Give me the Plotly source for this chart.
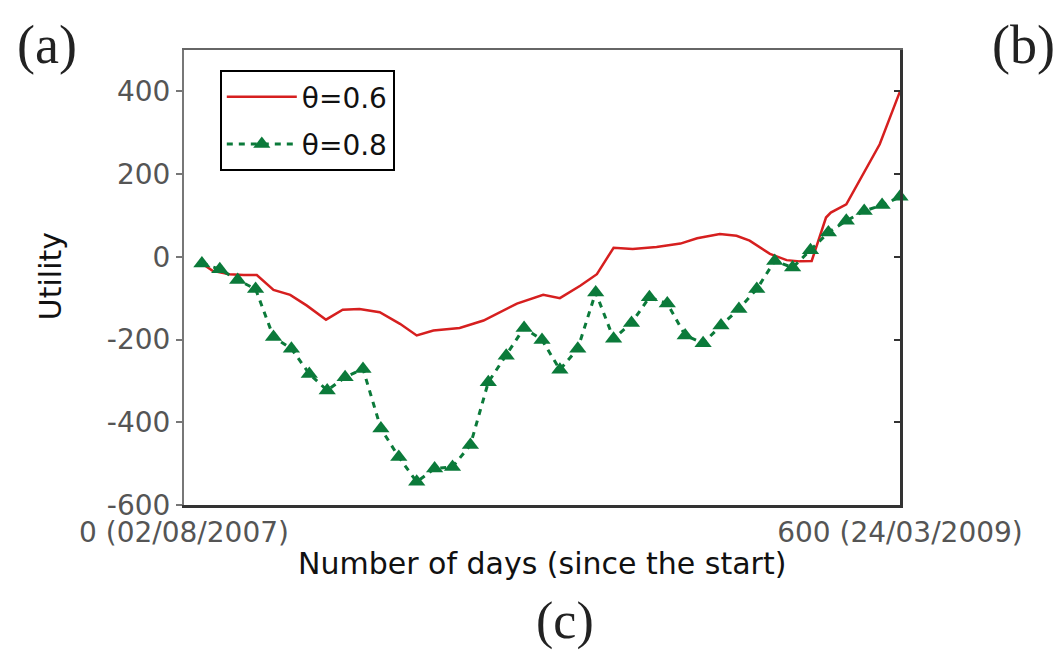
import plotly.graph_objects as go

# Utility over time for two threshold settings
days_theta06 = [15, 24, 38, 50, 61, 75, 89, 103, 119, 133, 147, 164, 181, 195,
                209, 231, 251, 265, 279, 301, 315, 332, 346, 360, 376, 396,
                416, 430, 449, 463, 474, 491, 505, 516, 526, 538, 542, 555,
                569, 583, 600]
utility_theta06 = [-16, -34, -42, -44, -44, -80, -92, -118, -152, -128, -126,
                   -134, -162, -190, -178, -172, -154, -134, -113, -92, -100,
                   -70, -42, 22, 19, 24, 32, 45, 55, 51, 39, 7, -8, -11, -10,
                   95, 107, 127, 199, 272, 400]

days_theta08 = [15, 30, 45, 60, 75, 90, 105, 120, 135, 150, 165, 180, 195,
                210, 225, 240, 255, 270, 285, 300, 315, 330, 345, 360, 375,
                390, 405, 420, 435, 450, 465, 480, 495, 510, 525, 540, 555,
                570, 585, 600]
utility_theta08 = [-16, -30, -56, -78, -194, -222, -283, -323, -291, -271,
                   -415, -484, -544, -512, -508, -455, -303, -239, -172, -201,
                   -273, -222, -86, -198, -160, -98, -113, -190, -209, -166,
                   -126, -78, -10, -26, 16, 59, 87, 111, 125, 145]

y_ticks = [-600, -400, -200, 0, 200, 400]
y_tick_text = ["-600", "-400", "-200", "0", "200", "400"]
x_ticks = [0, 600]
x_tick_text = ["0 (02/08/2007)", "600 (24/03/2009)"]

RED = "#d61f1f"
GREEN = "#0b7a3a"
SANS = "DejaVu Sans"
SERIF = "Liberation Serif"

fig = go.Figure()
fig.add_trace(go.Scatter(
    x=days_theta06, y=utility_theta06, mode="lines", name="θ=0.6",
    legendgroup="a", line=dict(color=RED, width=2.5), cliponaxis=False))
fig.add_trace(go.Scatter(
    x=days_theta08, y=utility_theta08, mode="lines+markers", name="θ=0.8",
    legendgroup="b", line=dict(color=GREEN, width=3, dash="6px,6px"),
    marker=dict(symbol="triangle-up", size=15, color=GREEN),
    cliponaxis=False))
# empty trace so the top/right frame axes get drawn
fig.add_trace(go.Scatter(x=[], y=[], xaxis="x2", yaxis="y2",
                         showlegend=False, hoverinfo="skip"))

fig.update_layout(
    width=1061, height=653,
    margin=dict(l=184, r=161, t=50, b=148),
    paper_bgcolor="white", plot_bgcolor="white",
    showlegend=True,
    legend=dict(x=0.05, y=0.956, xanchor="left", yanchor="top",
                bordercolor="black", borderwidth=2, bgcolor="white",
                font=dict(family=SANS, size=28, color="#111"),
                tracegroupgap=8, itemwidth=70),
    xaxis=dict(range=[0, 600], tickvals=x_ticks, ticktext=x_tick_text,
               ticks="", showgrid=False, zeroline=False,
               showline=True, linecolor="#333", linewidth=3,
               tickfont=dict(family=SANS, size=28, color="#555")),
    xaxis2=dict(range=[0, 600], overlaying="x", side="top", anchor="y2",
                showgrid=False, zeroline=False, showticklabels=False,
                ticks="", showline=True, linecolor="#666", linewidth=2),
    yaxis=dict(range=[-600, 500], tickvals=y_ticks, ticktext=y_tick_text,
               ticks="outside", ticklen=6, tickcolor="#777", tickwidth=2,
               showgrid=False, zeroline=False,
               showline=True, linecolor="#777", linewidth=2,
               tickfont=dict(family=SANS, size=28, color="#555")),
    yaxis2=dict(range=[-600, 500], overlaying="y", side="right", anchor="x2",
                tickvals=y_ticks, ticks="inside", ticklen=6, tickwidth=2,
                tickcolor="#333", showticklabels=False, showgrid=False,
                zeroline=False, showline=True, linecolor="#333", linewidth=3),
    annotations=[
        dict(text="Number of days (since the start)", xref="paper",
             yref="paper", x=0.5, y=-0.128, xanchor="center",
             yanchor="middle", showarrow=False,
             font=dict(family=SANS, size=30, color="#111")),
        dict(text="Utility", xref="paper", yref="paper", x=-0.187, y=0.503,
             xanchor="center", yanchor="middle", textangle=-90,
             showarrow=False, font=dict(family=SANS, size=30, color="#111")),
        dict(text="(a)", xref="paper", yref="paper", x=-0.191, y=1.011,
             xanchor="center", yanchor="middle", showarrow=False,
             font=dict(family=SERIF, size=54, color="#222")),
        dict(text="(b)", xref="paper", yref="paper", x=1.172, y=1.011,
             xanchor="center", yanchor="middle", showarrow=False,
             font=dict(family=SERIF, size=54, color="#222")),
        dict(text="(c)", xref="paper", yref="paper", x=0.532, y=-0.256,
             xanchor="center", yanchor="middle", showarrow=False,
             font=dict(family=SERIF, size=52, color="#222")),
    ],
)

fig.write_html("out.html")
